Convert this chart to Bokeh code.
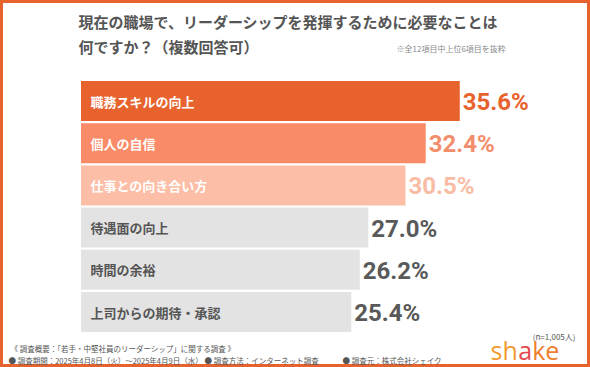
from bokeh.plotting import figure
from bokeh.models import ColumnDataSource, Range1d
from bokeh.core.properties import value
from bokeh.embed import file_html
from bokeh.resources import INLINE

# ---- data ----
categories = ["職務スキルの向上", "個人の自信", "仕事との向き合い方", "待遇面の向上", "時間の余裕", "上司からの期待・承認"]
values = [35.6, 32.4, 30.5, 27.0, 26.2, 25.4]
title_lines = ["現在の職場で、リーダーシップを発揮するために必要なことは", "何ですか？（複数回答可）"]
note_text = "※全12項目中上位6項目を抜粋"
n_text = "(n=1,005人)"
footer_title = "《 調査概要：「若手・中堅社員のリーダーシップ」に関する調査 》"
footer_items = ["● 調査期間：2025年4月8日（火）～2025年4月9日（水）", "● 調査方法：インターネット調査", "● 調査元：株式会社シェイク"]
logo_parts = ["sh", "a", "ke"]

# ---- styles ----
bar_colors = ["#E8622E", "#FA8B68", "#FCBEA6", "#E3E3E3", "#E3E3E3", "#E3E3E3"]
cat_colors = ["#FFFFFF", "#FFFFFF", "#FFFFFF", "#555555", "#555555", "#555555"]
val_colors = ["#E8622E", "#F28E6C", "#F8BCA4", "#595959", "#595959", "#595959"]
logo_colors = ["#F29A2E", "#E24A4F", "#EE7E2E"]

W, H = 590, 367
px_per_pct = 10.64
bar_left_px = 80.5
first_center_px = 100.5
pitch_px = 42.2

x_start = -bar_left_px / px_per_pct
x_end = (W - bar_left_px) / px_per_pct
y_top = -first_center_px / pitch_px
y_bottom = (H - first_center_px) / pitch_px

src = ColumnDataSource(dict(
    y=list(range(len(categories))),
    cat=categories,
    val=values,
    pct=[f"{v:.1f}%" for v in values],
    bar_color=bar_colors,
    cat_color=cat_colors,
    val_color=val_colors,
))

p = figure(width=W, height=H, output_backend="svg", toolbar_location=None,
           x_range=Range1d(x_start, x_end), y_range=Range1d(y_bottom, y_top),
           x_axis_location=None, y_axis_location=None,
           min_border=0, min_border_left=0, min_border_right=0,
           min_border_top=0, min_border_bottom=0)
p.grid.visible = False
p.background_fill_color = "white"
p.border_fill_color = "white"
p.outline_line_color = "#E8622E"
p.outline_line_width = 5

p.hbar(y="y", left=0, right="val", height=40 / pitch_px, fill_color="bar_color",
       line_color=None, source=src)

JP = value("Noto Sans CJK JP")
p.text(x=0, y="y", text="cat", x_offset=9.5, text_font=JP, text_font_style="bold",
       text_font_size="13px", text_color="cat_color", text_baseline="middle",
       text_align="left", source=src)
p.text(x="val", y="y", text="pct", x_offset=3, y_offset=1, text_font=value("Roboto"),
       text_font_style="bold", text_font_size="24px", text_color="val_color",
       text_baseline="middle", text_align="left", source=src)


def lab(xp, yp, text, size, color="#555555", bold=False, align="left",
        font="Noto Sans CJK JP", baseline="middle"):
    # convert pixel placement to the figure's data coordinates
    xd = x_start + xp / px_per_pct
    yd = y_top + yp / pitch_px
    p.text(x=[xd], y=[yd], text=[text], text_font=value(font), text_font_size=size,
           text_font_style="bold" if bold else "normal", text_color=color,
           text_align=align, text_baseline=baseline)


lab(78, 21, title_lines[0], "15px", "#555555", True)
lab(78, 46, title_lines[1], "15px", "#555555", True)
lab(396, 48, note_text, "8px", "#8A8A8A")
lab(575, 336, n_text, "8px", "#555555", align="right")
lab(10, 348, footer_title, "7.5px", "#555555")
lab(8, 360, footer_items[0], "7.5px", "#555555")
lab(204, 360, footer_items[1], "7.5px", "#555555")
lab(342, 360, footer_items[2], "7.5px", "#555555")

logo_x = [490, 517.8, 531.7]
for part, lx, col in zip(logo_parts, logo_x, logo_colors):
    lab(lx, 366, part, "25px", col, font="Open Sans", baseline="bottom")

open("out.html", "w").write(file_html(p, INLINE))
